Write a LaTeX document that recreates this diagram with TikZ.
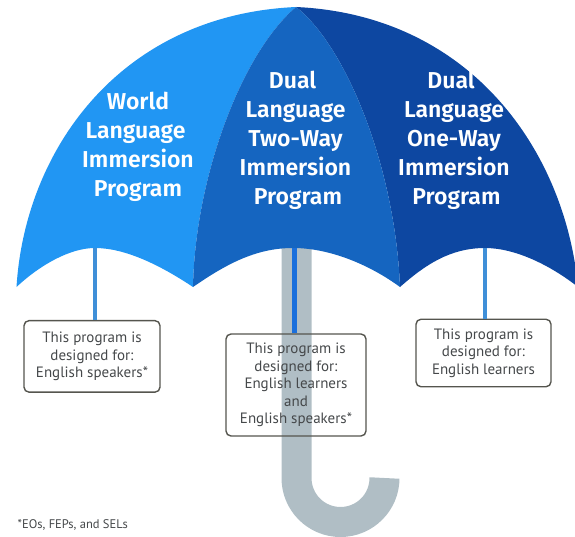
\documentclass[tikz,border=0pt]{standalone}
\usepackage{fontspec}
\setmainfont{Open Sans}
\newfontfamily\headfont{Fira Sans SemiBold}
\newfontfamily\bodyfont{PT Sans}
\definecolor{paneA}{HTML}{2196F3}
\definecolor{paneB}{HTML}{1565C0}
\definecolor{paneC}{HTML}{0D47A1}
\definecolor{grip}{HTML}{B0BEC5}
\definecolor{stemA}{HTML}{3F8FD8}
\definecolor{stemB}{HTML}{1A6FDC}
\definecolor{edge}{HTML}{55554E}
\definecolor{ink}{HTML}{45484A}
\tikzset{
  x=1pt,y=-1pt,
  title/.style={text=white,font=\headfont\fontsize{23}{29}\selectfont,align=center,inner sep=0pt},
  infobox/.style={draw=edge,line width=1.4pt,rounded corners=5pt,inner sep=0pt,text=ink,
     font=\bodyfont\fontsize{15}{17.6}\selectfont,align=center},
  stem/.style={line width=4.5pt},
}
\begin{document}
\begin{tikzpicture}
\useasboundingbox (0,0) rectangle (575,537);
\clip (0,0) rectangle (575,537);
% handle
\draw[grip,line width=30pt] (296.5,240) -- (296.5,478) arc[start angle=180,end angle=0,radius=44] coordinate (hookEnd);
% canopy panes
\fill[paneA] (296,7) .. controls (120,15) and (25,150) .. (16.5,287)
   .. controls (40,265) and (70,248) .. (95,248) .. controls (125,248) and (160,265) .. (193,287)
   .. controls (195,180) and (240,55) .. (296,7) -- cycle;
\fill[paneC] (296,7) .. controls (470,15) and (565,150) .. (578,287)
   .. controls (550,265) and (515,248) .. (485,248) .. controls (450,248) and (425,265) .. (400,287)
   .. controls (395,165) and (345,45) .. (296,7) -- cycle;
\fill[paneB] (296,7) .. controls (345,45) and (395,165) .. (400,287)
   .. controls (370,265) and (330,248) .. (293,248) .. controls (255,248) and (225,265) .. (193,287)
   .. controls (195,180) and (240,55) .. (296,7) -- cycle;
% coordinates where the stems leave the canopy
\coordinate (topA) at (95,248);
\coordinate (topB) at (294.5,248);
\coordinate (topC) at (485,248);
% boxes
\node[infobox,minimum width=136pt,minimum height=71.5pt] (boxA) at (92,356.4)
  {This program is\\designed for:\\English speakers*};
\node[infobox,minimum width=140pt,minimum height=102pt] (boxB) at (296,385)
  {This program is\\designed for:\\English learners\\and\\English speakers*};
\node[infobox,minimum width=135pt,minimum height=67.5pt] (boxC) at (483.5,353)
  {This program is\\designed for:\\English learners};
% stems
\draw[stem,stemA] (topA) -- (topA |- boxA.north);
\draw[stem,stemB] (topB) -- (topB |- boxB.north);
\draw[stem,stemA] (topC) -- (topC |- boxC.north);
% titles
\node[title] (titleA) at (138,147) {World\\\hspace*{-5pt}Language\\Immersion\\Program};
\node[title] (titleB) at (295.5,140.5) {\hspace*{-6pt}Dual\\Language\\Two-Way\\Immersion\\\hspace*{5pt}Program};
\node[title] (titleC) at (454,140.5) {\hspace*{-6pt}Dual\\Language\\One-Way\\Immersion\\\hspace*{5pt}Program};
% footnote
\node[anchor=west,inner sep=0pt,text=ink,font=\bodyfont\fontsize{12.5}{14}\selectfont] (note) at (17.5,525) {*EOs, FEPs, and SELs};
\end{tikzpicture}
\end{document}
